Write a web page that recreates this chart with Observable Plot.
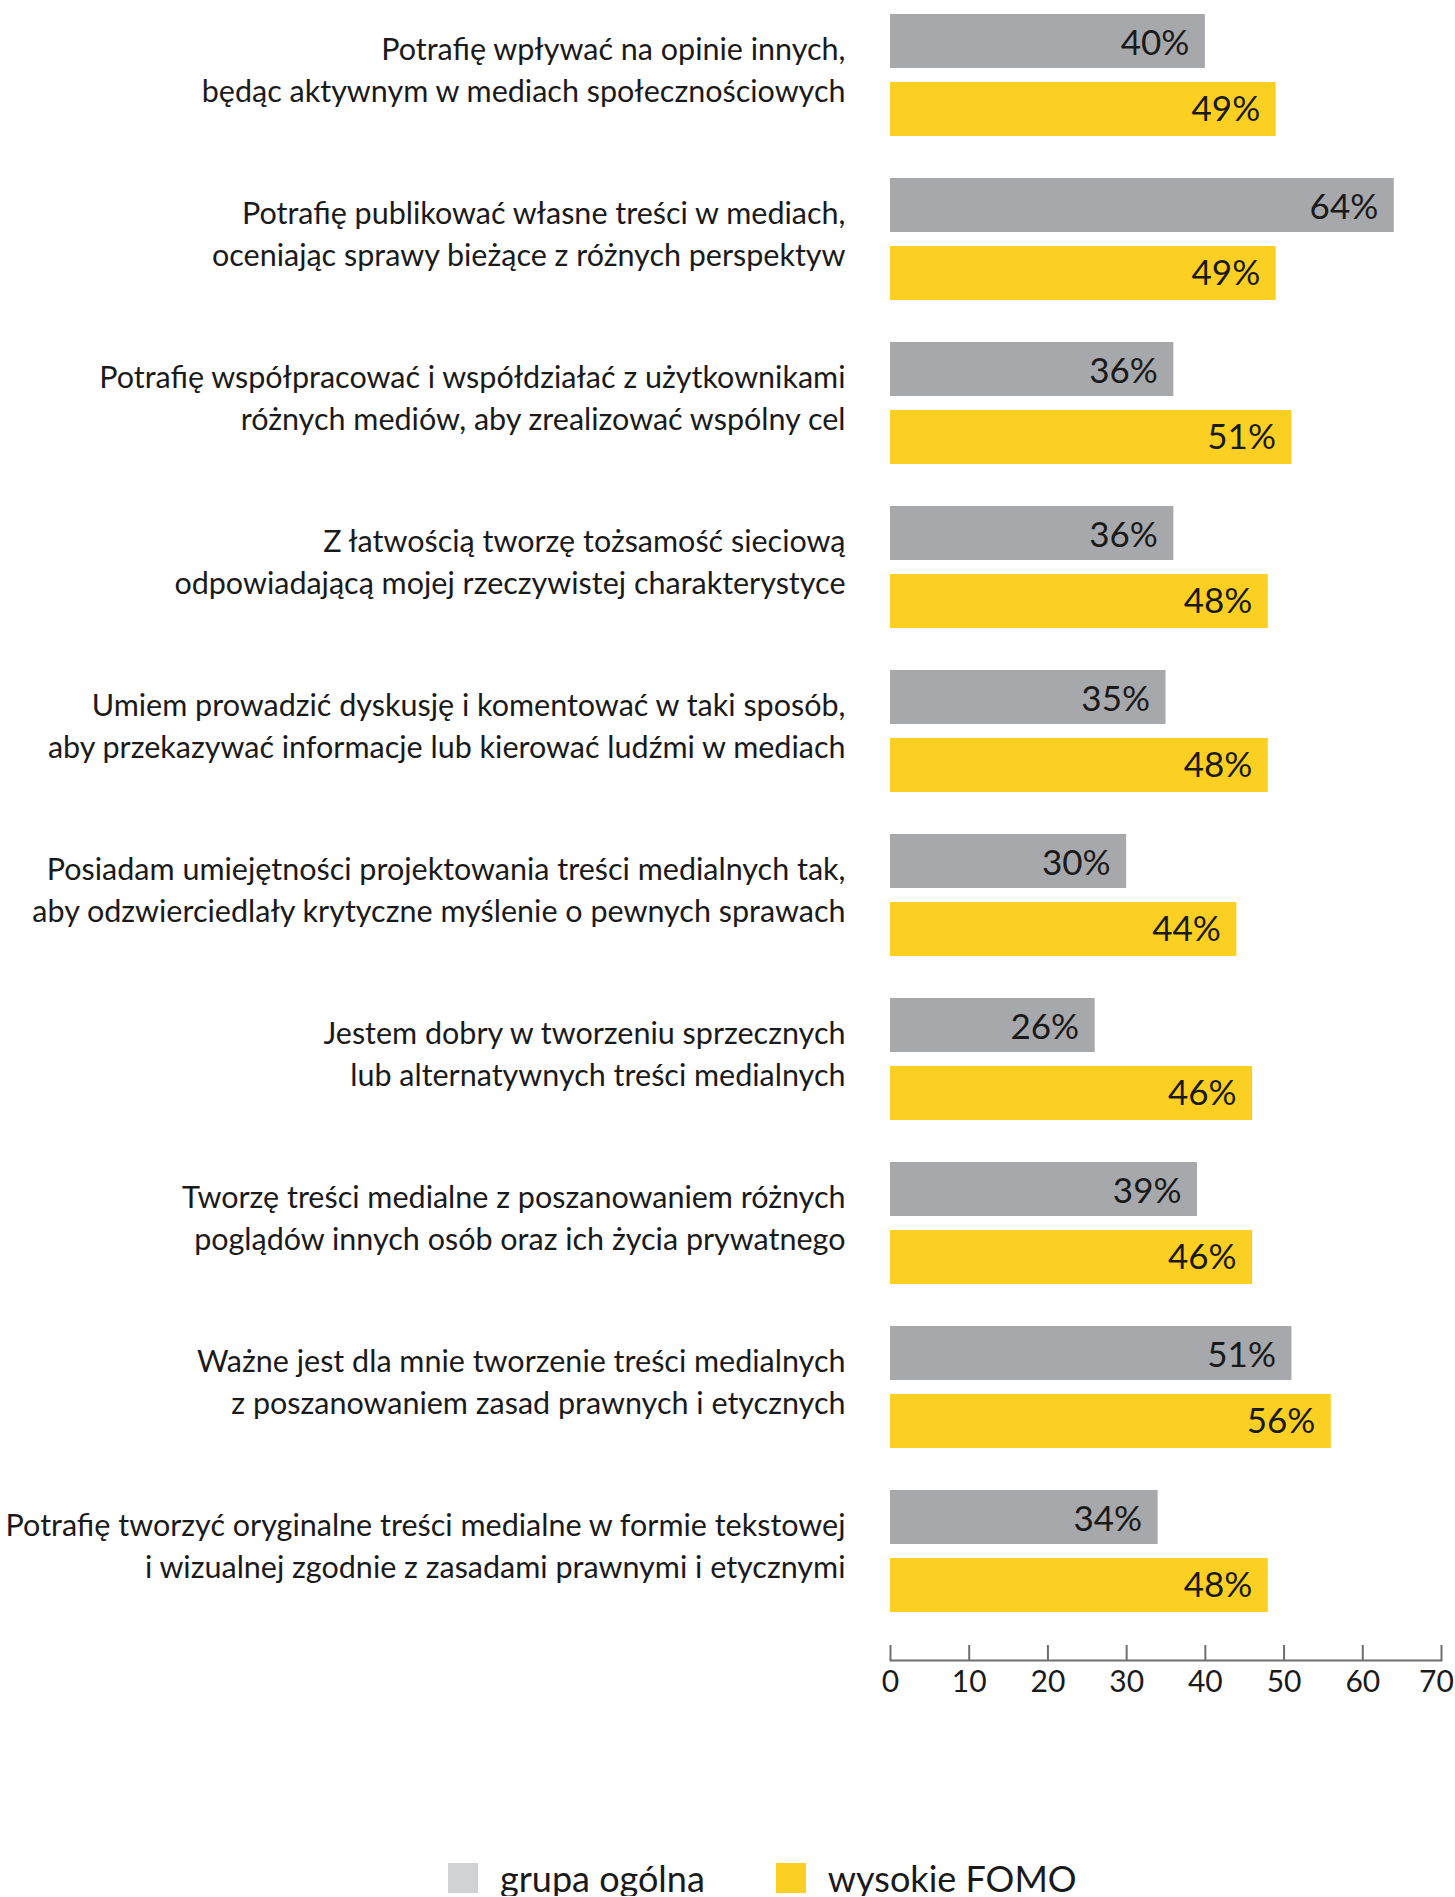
<!DOCTYPE html>
<html><head><meta charset="utf-8">
<script src="https://cdn.jsdelivr.net/npm/d3@7"></script>
<script src="https://cdn.jsdelivr.net/npm/@observablehq/plot@0.6"></script>
<style>
body{margin:0;background:#fff;font-family:Lato,sans-serif;color:#1a1a1a;width:1455px;}
#legend{display:flex;align-items:center;padding-left:448px;margin-top:140px;font-size:36px;line-height:1;}
#legend .item{display:flex;align-items:center;}
#legend .sw{width:30px;height:30px;margin-right:22px;}
</style></head><body><div id="chart"></div><div id="legend"></div>
<script>
const questions = [
  "Potrafię wpływać na opinie innych,\nbędąc aktywnym w mediach społecznościowych",
  "Potrafię publikować własne treści w mediach,\noceniając sprawy bieżące z różnych perspektyw",
  "Potrafię współpracować i współdziałać z użytkownikami\nróżnych mediów, aby zrealizować wspólny cel",
  "Z łatwością tworzę tożsamość sieciową\nodpowiadającą mojej rzeczywistej charakterystyce",
  "Umiem prowadzić dyskusję i komentować w taki sposób,\naby przekazywać informacje lub kierować ludźmi w mediach",
  "Posiadam umiejętności projektowania treści medialnych tak,\naby odzwierciedlały krytyczne myślenie o pewnych sprawach",
  "Jestem dobry w tworzeniu sprzecznych\nlub alternatywnych treści medialnych",
  "Tworzę treści medialne z poszanowaniem różnych\npoglądów innych osób oraz ich życia prywatnego",
  "Ważne jest dla mnie tworzenie treści medialnych\nz poszanowaniem zasad prawnych i etycznych",
  "Potrafię tworzyć oryginalne treści medialne w formie tekstowej\ni wizualnej zgodnie z zasadami prawnymi i etycznymi"
];
const grupaOgolna = [40, 64, 36, 36, 35, 30, 26, 39, 51, 34];
const wysokieFomo = [49, 49, 51, 48, 48, 44, 46, 46, 56, 48];
const seriesNames = ["grupa ogólna", "wysokie FOMO"];
const barColors = ["#a7a8ab", "#fcd022"];
const legendColors = ["#d1d2d4", "#fcd022"];
const xTicks = [0, 10, 20, 30, 40, 50, 60, 70];

const rows = questions.flatMap((q, i) => [
  {question: q, series: seriesNames[0], value: grupaOgolna[i]},
  {question: q, series: seriesNames[1], value: wysokieFomo[i]}
]);
const greyRows = rows.filter(d => d.series === seriesNames[0]);
const yellowRows = rows.filter(d => d.series === seriesNames[1]);

const W = 1455, H = 1720, mL = 890, mR = 14, mT = 14, mB = 60;
const bandH = 122, barH = 54;
const inset = bandH - barH;
const frameH = H - mT - mB;
const axisColor = "#6d6e71";
const lastTick = xTicks[xTicks.length - 1];

const chart = Plot.plot({
  width: W, height: H,
  marginLeft: mL, marginRight: mR, marginTop: mT, marginBottom: mB,
  style: {fontFamily: "Lato, sans-serif", background: "#fff", color: "#1a1a1a"},
  x: {domain: [0, 70]},
  y: {domain: questions, paddingInner: 0.256, paddingOuter: 0.146, align: 0},
  color: {domain: seriesNames, range: barColors},
  marks: [
    Plot.barX(greyRows, {x: "value", y: "question", fill: "series", insetBottom: inset}),
    Plot.barX(yellowRows, {x: "value", y: "question", fill: "series", insetTop: inset}),
    Plot.text(greyRows, {x: "value", y: "question", text: d => d.value + "%", textAnchor: "end", dx: -16, dy: -inset / 2 + 2, fontSize: 35, fill: "#1a1a1a"}),
    Plot.text(yellowRows, {x: "value", y: "question", text: d => d.value + "%", textAnchor: "end", dx: -16, dy: inset / 2, fontSize: 35, fill: "#1a1a1a"}),
    Plot.axisY({tickSize: 0, tickPadding: 45, fontSize: 30.5, lineHeight: 1.38, label: null, dy: -8, fill: "#1a1a1a"}),
    Plot.axisX({ticks: xTicks.filter(t => t !== lastTick), tickSize: 0, tickPadding: 10, fontSize: 30, label: null, fill: "#1a1a1a"}),
    Plot.axisX({ticks: [lastTick], tickSize: 0, tickPadding: 10, fontSize: 30, label: null, dx: -5, fill: "#1a1a1a"}),
    Plot.frame({anchor: "bottom", stroke: axisColor, strokeWidth: 2}),
    Plot.tickX(xTicks, {x: d => d, insetTop: frameH - 15, stroke: axisColor, strokeWidth: 2})
  ]
});
document.getElementById("chart").appendChild(chart);

const legend = document.getElementById("legend");
seriesNames.forEach((name, i) => {
  const item = document.createElement("div");
  item.className = "item";
  if (i > 0) item.style.marginLeft = "71px";
  const sw = document.createElement("div");
  sw.className = "sw";
  sw.style.background = legendColors[i];
  const label = document.createElement("span");
  label.textContent = name;
  item.appendChild(sw);
  item.appendChild(label);
  legend.appendChild(item);
});
</script></body></html>
